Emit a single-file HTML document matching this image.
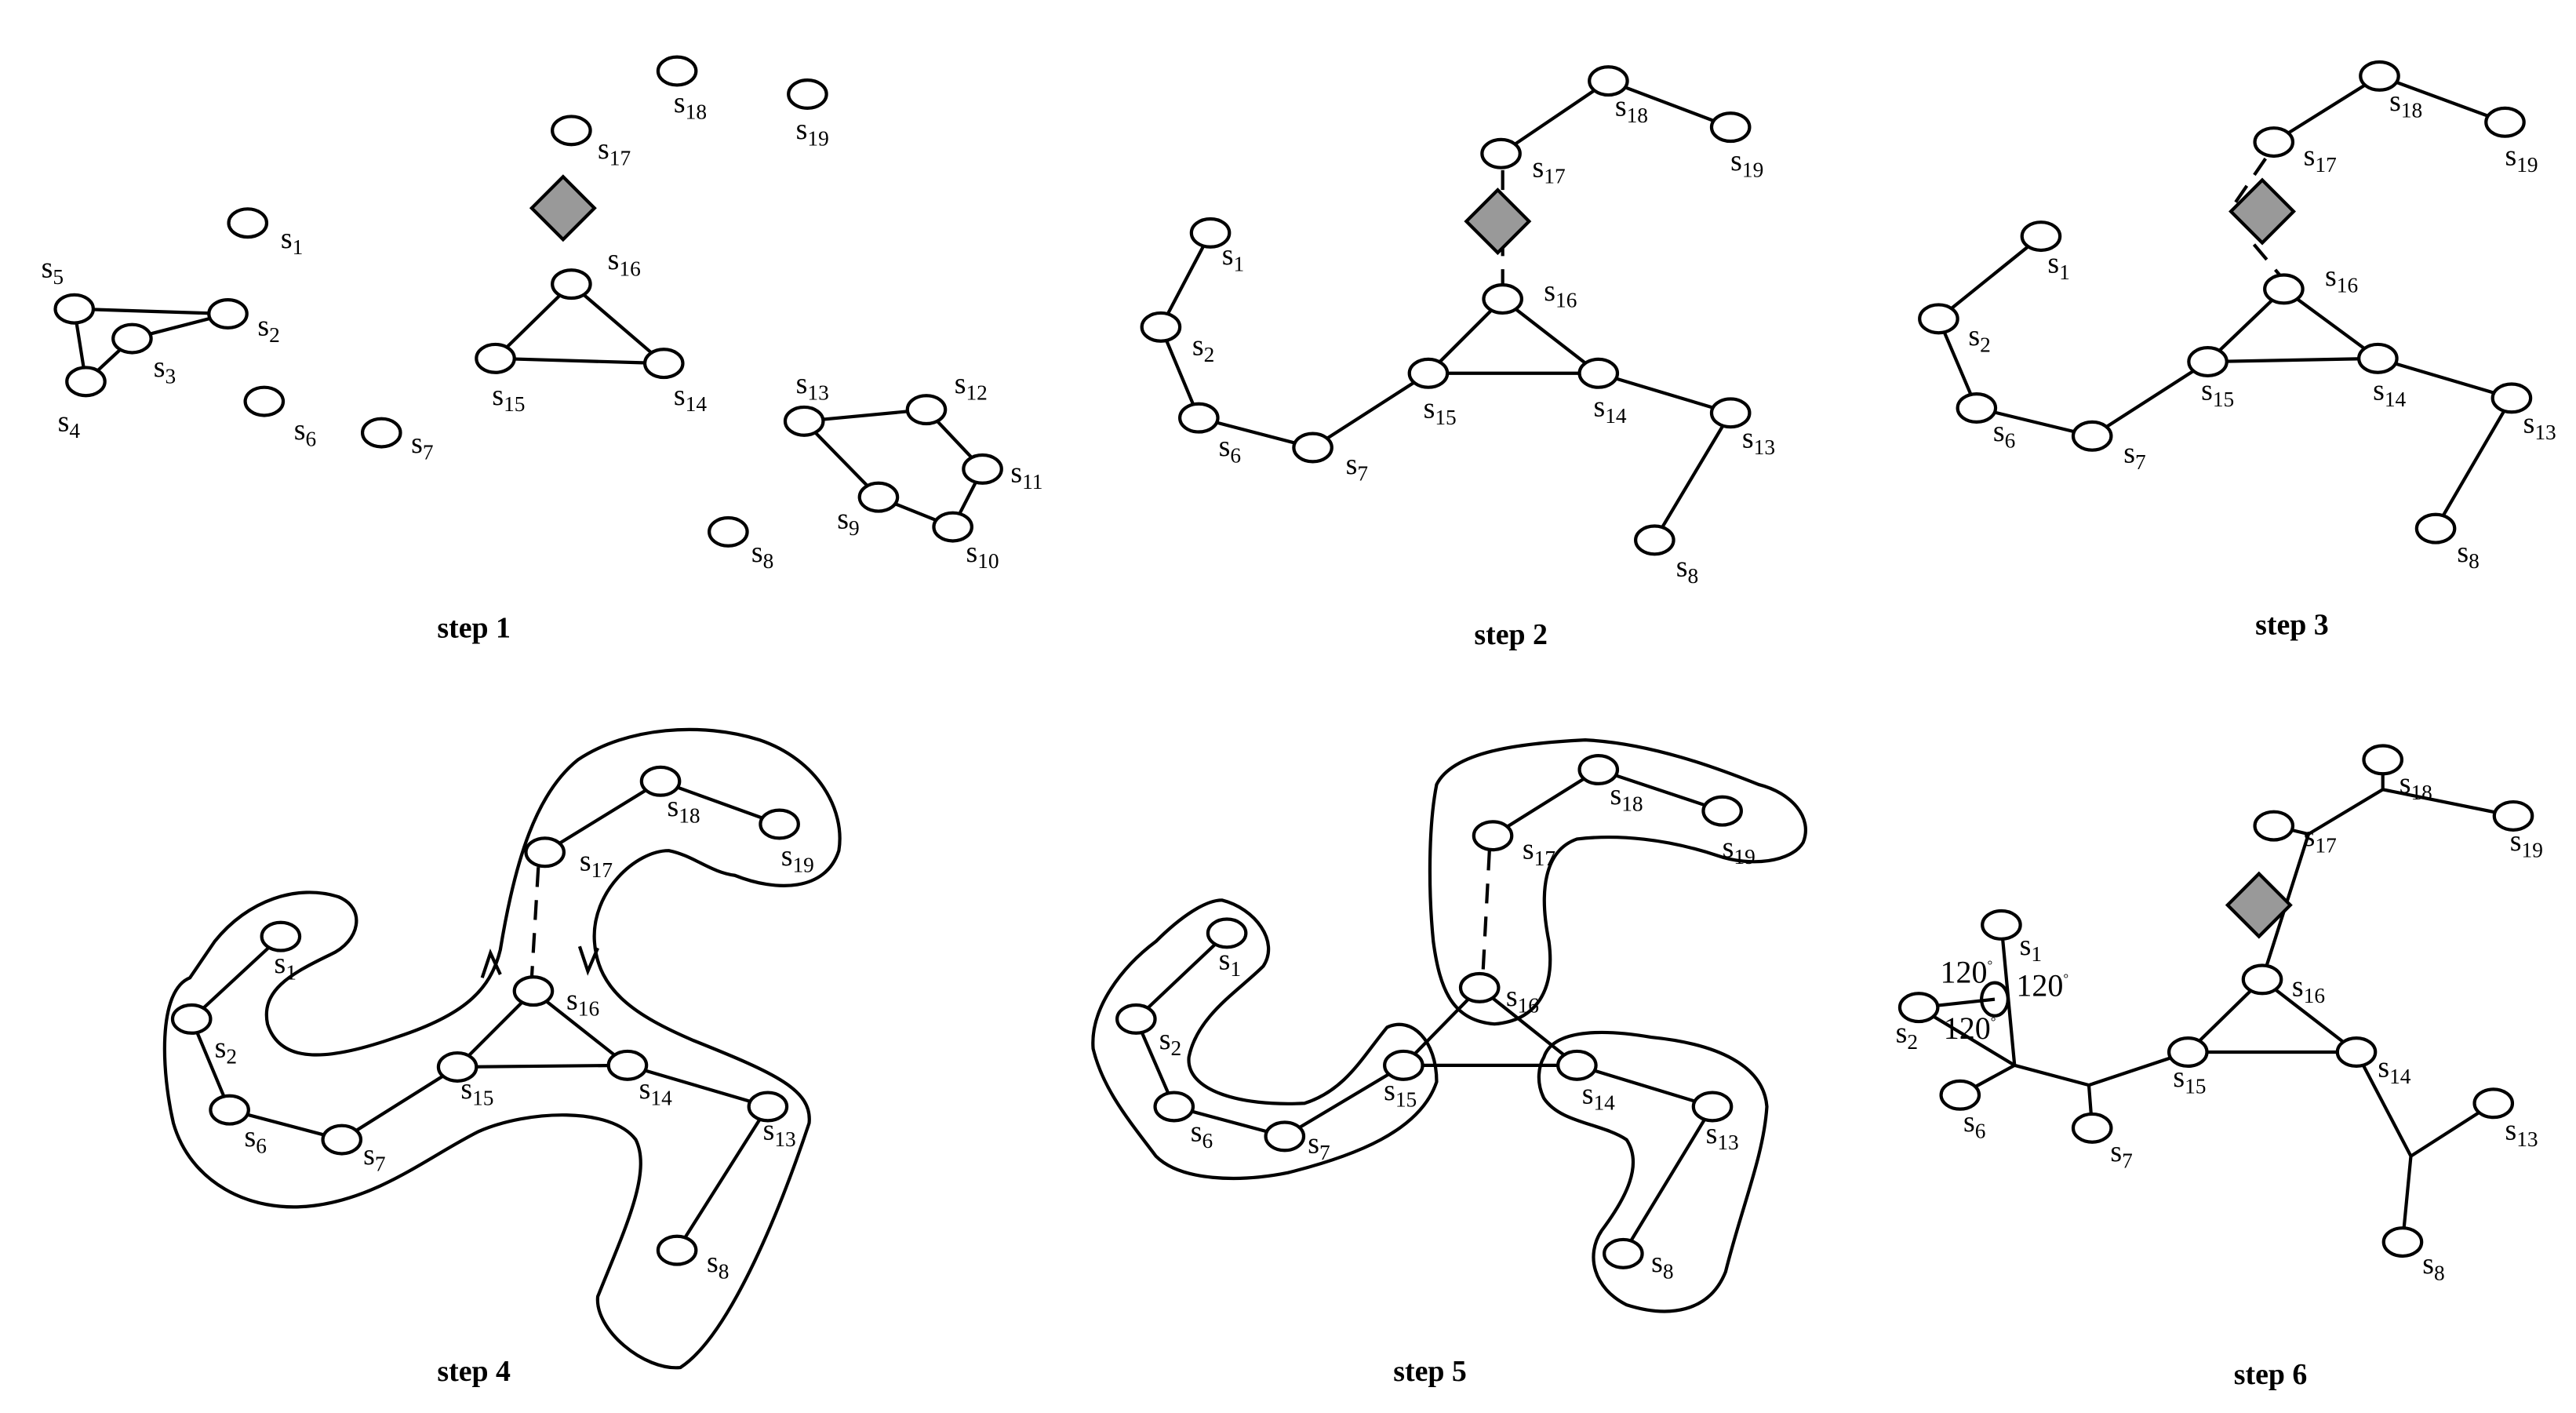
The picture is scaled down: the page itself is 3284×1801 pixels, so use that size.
<!DOCTYPE html>
<html><head><meta charset="utf-8"><style>
html,body{margin:0;padding:0;background:#fff;}
svg{display:block;}
text{font-family:"Liberation Serif",serif;fill:#000;}
.l{font-size:18px;}
.b{font-size:18px;font-weight:bold;}
</style></head><body>
<svg width="3284" height="1801" viewBox="0 0 1560 855.5" xmlns="http://www.w3.org/2000/svg">
<defs>
<ellipse id="n" rx="11.5" ry="8.5" fill="#fff" stroke="#000" stroke-width="2"/>
</defs>
<g stroke="#000" stroke-width="2" fill="none">
<!-- step1 edges -->
<path d="M45,187L138,190M45,187L52,231M52,231L80,205M80,205L138,190"/>
<path d="M346,172L300,217L402,220Z"/>
<path d="M487,255L561,248L595,284L577,319L532,301Z"/>
<!-- step2 -->
<path d="M733,141L703,198L726,253L795,271L865,226L910,181L968,226L865,226M968,226L1048,250L1002,327M909,93L974,49L1048,77"/>
<path d="M910,103L910,172" stroke-dasharray="12,8"/>
<!-- step3 -->
<path d="M1236,143L1174,193L1197,247L1267,264L1337,219L1383,175L1440,217L1337,219M1440,217L1521,241L1475,320M1377,86L1441,46L1517,74"/>
<path d="M1372,96L1350,128M1365,148L1381,167" stroke-dasharray="12,8"/>
<!-- step4 -->
<path d="M170,567L116,617L139,672L207,690L277,646L323,600L380,645L277,646M380,645L465,670L410,757M330,516L400,473L472,499"/>
<path d="M326,525L322,592" stroke-dasharray="12,8"/>
<path d="M115,592C95,600 98,650 105,680C115,715 150,735 190,730C230,725 260,700 290,685C320,672 370,670 385,690C395,710 378,745 362,785C360,805 390,830 412,828C440,810 470,740 490,680C492,660 470,650 420,630C385,615 362,600 360,570C358,540 385,515 405,515C420,518 430,528 445,530C470,540 500,540 508,515C512,490 495,460 460,448C425,437 380,440 350,460C325,480 312,520 303,575C297,600 280,615 240,628C200,642 170,645 162,620C158,600 175,590 200,578C218,570 222,550 205,543C180,535 150,545 130,570Z"/>
<path d="M292,592L297,577L303,590M351,573L356,588L362,574"/>
<!-- step5 -->
<path d="M743,565L688,617L711,670L778,688L850,645L896,598L955,645L850,645M955,645L1037,670L983,759M904,506L968,466L1043,491"/>
<path d="M902,515L898,590" stroke-dasharray="12,8"/>
<path d="M740,545C760,550 775,570 765,585C750,600 725,615 720,640C718,660 750,670 790,668C815,660 825,640 840,622C855,615 870,630 870,655C860,685 820,700 780,710C750,716 715,715 700,700C685,680 668,660 662,635C660,610 680,585 700,570C715,555 730,545 740,545Z"/>
<path d="M870,475C880,455 920,450 960,448C1000,450 1040,465 1065,475C1085,480 1098,495 1092,510C1085,522 1060,525 1040,518C1010,508 980,505 955,508C935,515 932,540 938,570C942,600 930,618 905,620C880,618 872,600 868,570C865,540 865,500 870,475Z"/>
<path d="M935,640C940,625 965,622 1000,628C1040,632 1068,645 1070,670C1068,700 1055,730 1045,770C1035,795 1010,798 985,790C965,780 960,760 970,745C985,725 995,705 985,690C970,680 945,680 935,665C930,655 932,645 935,640Z"/>
<!-- step6 -->
<path d="M1212,560L1220,645L1187,663M1220,645L1162,610M1162,610L1208,605M1220,645L1265,657L1267,683M1265,657L1325,637L1370,593L1427,637L1325,637M1370,593L1398,505L1377,500M1398,505L1443,478L1443,460M1443,478L1522,494M1427,637L1460,700L1510,668M1460,700L1455,752"/>
</g>
<g fill="#999" stroke="#000" stroke-width="2">
<path d="M341,107L360,126L341,145L322,126Z"/>
<path d="M907,115L926,134L907,153L888,134Z"/>
<path d="M1370,109L1389,128L1370,147L1351,128Z"/>
<path d="M1368,529L1387,548L1368,567L1349,548Z"/>
</g>
<!-- nodes -->
<g>
<use href="#n" x="150" y="135"/><use href="#n" x="45" y="187"/><use href="#n" x="138" y="190"/><use href="#n" x="80" y="205"/><use href="#n" x="52" y="231"/><use href="#n" x="160" y="243"/><use href="#n" x="231" y="262"/><use href="#n" x="346" y="172"/><use href="#n" x="300" y="217"/><use href="#n" x="402" y="220"/><use href="#n" x="346" y="79"/><use href="#n" x="410" y="43"/><use href="#n" x="489" y="57"/><use href="#n" x="487" y="255"/><use href="#n" x="561" y="248"/><use href="#n" x="595" y="284"/><use href="#n" x="577" y="319"/><use href="#n" x="532" y="301"/><use href="#n" x="441" y="322"/>
<use href="#n" x="733" y="141"/><use href="#n" x="703" y="198"/><use href="#n" x="726" y="253"/><use href="#n" x="795" y="271"/><use href="#n" x="865" y="226"/><use href="#n" x="910" y="181"/><use href="#n" x="968" y="226"/><use href="#n" x="1048" y="250"/><use href="#n" x="1002" y="327"/><use href="#n" x="909" y="93"/><use href="#n" x="974" y="49"/><use href="#n" x="1048" y="77"/>
<use href="#n" x="1236" y="143"/><use href="#n" x="1174" y="193"/><use href="#n" x="1197" y="247"/><use href="#n" x="1267" y="264"/><use href="#n" x="1337" y="219"/><use href="#n" x="1383" y="175"/><use href="#n" x="1440" y="217"/><use href="#n" x="1521" y="241"/><use href="#n" x="1475" y="320"/><use href="#n" x="1377" y="86"/><use href="#n" x="1441" y="46"/><use href="#n" x="1517" y="74"/>
<use href="#n" x="170" y="567"/><use href="#n" x="116" y="617"/><use href="#n" x="139" y="672"/><use href="#n" x="207" y="690"/><use href="#n" x="277" y="646"/><use href="#n" x="323" y="600"/><use href="#n" x="380" y="645"/><use href="#n" x="465" y="670"/><use href="#n" x="410" y="757"/><use href="#n" x="330" y="516"/><use href="#n" x="400" y="473"/><use href="#n" x="472" y="499"/>
<use href="#n" x="743" y="565"/><use href="#n" x="688" y="617"/><use href="#n" x="711" y="670"/><use href="#n" x="778" y="688"/><use href="#n" x="850" y="645"/><use href="#n" x="896" y="598"/><use href="#n" x="955" y="645"/><use href="#n" x="1037" y="670"/><use href="#n" x="983" y="759"/><use href="#n" x="904" y="506"/><use href="#n" x="968" y="466"/><use href="#n" x="1043" y="491"/>
<use href="#n" x="1212" y="560"/><use href="#n" x="1162" y="610"/><use href="#n" x="1187" y="663"/><use href="#n" x="1267" y="683"/><use href="#n" x="1325" y="637"/><use href="#n" x="1370" y="593"/><use href="#n" x="1427" y="637"/><use href="#n" x="1510" y="668"/><use href="#n" x="1455" y="752"/><use href="#n" x="1377" y="500"/><use href="#n" x="1443" y="460"/><use href="#n" x="1522" y="494"/>
</g>
<ellipse cx="1208" cy="605" rx="8" ry="10" fill="none" stroke="#000" stroke-width="2"/>
<g class="l">
<text x="170" y="150">s<tspan font-size="13" dy="4">1</tspan></text>
<text x="25" y="168">s<tspan font-size="13" dy="4">5</tspan></text>
<text x="156" y="203">s<tspan font-size="13" dy="4">2</tspan></text>
<text x="93" y="228">s<tspan font-size="13" dy="4">3</tspan></text>
<text x="35" y="261">s<tspan font-size="13" dy="4">4</tspan></text>
<text x="178" y="266">s<tspan font-size="13" dy="4">6</tspan></text>
<text x="249" y="274">s<tspan font-size="13" dy="4">7</tspan></text>
<text x="368" y="163">s<tspan font-size="13" dy="4">16</tspan></text>
<text x="298" y="245">s<tspan font-size="13" dy="4">15</tspan></text>
<text x="408" y="245">s<tspan font-size="13" dy="4">14</tspan></text>
<text x="362" y="96">s<tspan font-size="13" dy="4">17</tspan></text>
<text x="408" y="68">s<tspan font-size="13" dy="4">18</tspan></text>
<text x="482" y="84">s<tspan font-size="13" dy="4">19</tspan></text>
<text x="482" y="238">s<tspan font-size="13" dy="4">13</tspan></text>
<text x="578" y="238">s<tspan font-size="13" dy="4">12</tspan></text>
<text x="612" y="292">s<tspan font-size="13" dy="4">11</tspan></text>
<text x="585" y="340">s<tspan font-size="13" dy="4">10</tspan></text>
<text x="507" y="320">s<tspan font-size="13" dy="4">9</tspan></text>
<text x="455" y="340">s<tspan font-size="13" dy="4">8</tspan></text>

<text x="740" y="160">s<tspan font-size="13" dy="4">1</tspan></text>
<text x="722" y="215">s<tspan font-size="13" dy="4">2</tspan></text>
<text x="738" y="276">s<tspan font-size="13" dy="4">6</tspan></text>
<text x="815" y="287">s<tspan font-size="13" dy="4">7</tspan></text>
<text x="862" y="253">s<tspan font-size="13" dy="4">15</tspan></text>
<text x="935" y="182">s<tspan font-size="13" dy="4">16</tspan></text>
<text x="965" y="252">s<tspan font-size="13" dy="4">14</tspan></text>
<text x="1055" y="271">s<tspan font-size="13" dy="4">13</tspan></text>
<text x="1015" y="349">s<tspan font-size="13" dy="4">8</tspan></text>
<text x="928" y="107">s<tspan font-size="13" dy="4">17</tspan></text>
<text x="978" y="70">s<tspan font-size="13" dy="4">18</tspan></text>
<text x="1048" y="103">s<tspan font-size="13" dy="4">19</tspan></text>

<text x="1240" y="165">s<tspan font-size="13" dy="4">1</tspan></text>
<text x="1192" y="209">s<tspan font-size="13" dy="4">2</tspan></text>
<text x="1207" y="267">s<tspan font-size="13" dy="4">6</tspan></text>
<text x="1286" y="280">s<tspan font-size="13" dy="4">7</tspan></text>
<text x="1333" y="242">s<tspan font-size="13" dy="4">15</tspan></text>
<text x="1408" y="173">s<tspan font-size="13" dy="4">16</tspan></text>
<text x="1437" y="242">s<tspan font-size="13" dy="4">14</tspan></text>
<text x="1528" y="262">s<tspan font-size="13" dy="4">13</tspan></text>
<text x="1488" y="340">s<tspan font-size="13" dy="4">8</tspan></text>
<text x="1395" y="100">s<tspan font-size="13" dy="4">17</tspan></text>
<text x="1447" y="67">s<tspan font-size="13" dy="4">18</tspan></text>
<text x="1517" y="100">s<tspan font-size="13" dy="4">19</tspan></text>

<text x="166" y="589">s<tspan font-size="13" dy="4">1</tspan></text>
<text x="130" y="640">s<tspan font-size="13" dy="4">2</tspan></text>
<text x="148" y="694">s<tspan font-size="13" dy="4">6</tspan></text>
<text x="220" y="705">s<tspan font-size="13" dy="4">7</tspan></text>
<text x="279" y="665">s<tspan font-size="13" dy="4">15</tspan></text>
<text x="343" y="611">s<tspan font-size="13" dy="4">16</tspan></text>
<text x="387" y="665">s<tspan font-size="13" dy="4">14</tspan></text>
<text x="462" y="690">s<tspan font-size="13" dy="4">13</tspan></text>
<text x="428" y="770">s<tspan font-size="13" dy="4">8</tspan></text>
<text x="351" y="527">s<tspan font-size="13" dy="4">17</tspan></text>
<text x="404" y="494">s<tspan font-size="13" dy="4">18</tspan></text>
<text x="473" y="524">s<tspan font-size="13" dy="4">19</tspan></text>

<text x="738" y="587">s<tspan font-size="13" dy="4">1</tspan></text>
<text x="702" y="635">s<tspan font-size="13" dy="4">2</tspan></text>
<text x="721" y="691">s<tspan font-size="13" dy="4">6</tspan></text>
<text x="792" y="698">s<tspan font-size="13" dy="4">7</tspan></text>
<text x="838" y="666">s<tspan font-size="13" dy="4">15</tspan></text>
<text x="912" y="609">s<tspan font-size="13" dy="4">16</tspan></text>
<text x="958" y="668">s<tspan font-size="13" dy="4">14</tspan></text>
<text x="1033" y="692">s<tspan font-size="13" dy="4">13</tspan></text>
<text x="1000" y="770">s<tspan font-size="13" dy="4">8</tspan></text>
<text x="922" y="520">s<tspan font-size="13" dy="4">17</tspan></text>
<text x="975" y="487">s<tspan font-size="13" dy="4">18</tspan></text>
<text x="1043" y="519">s<tspan font-size="13" dy="4">19</tspan></text>

<text x="1223" y="578">s<tspan font-size="13" dy="4">1</tspan></text>
<text x="1148" y="631">s<tspan font-size="13" dy="4">2</tspan></text>
<text x="1189" y="685">s<tspan font-size="13" dy="4">6</tspan></text>
<text x="1278" y="703">s<tspan font-size="13" dy="4">7</tspan></text>
<text x="1316" y="658">s<tspan font-size="13" dy="4">15</tspan></text>
<text x="1388" y="603">s<tspan font-size="13" dy="4">16</tspan></text>
<text x="1440" y="652">s<tspan font-size="13" dy="4">14</tspan></text>
<text x="1517" y="690">s<tspan font-size="13" dy="4">13</tspan></text>
<text x="1467" y="771">s<tspan font-size="13" dy="4">8</tspan></text>
<text x="1395" y="512">s<tspan font-size="13" dy="4">17</tspan></text>
<text x="1453" y="480">s<tspan font-size="13" dy="4">18</tspan></text>
<text x="1520" y="515">s<tspan font-size="13" dy="4">19</tspan></text>
</g>
<g style="font-size:19px">
<text x="1175" y="595">120<tspan font-size="8" dy="-8">°</tspan></text>
<text x="1221" y="603">120<tspan font-size="8" dy="-8">°</tspan></text>
<text x="1177" y="629">120<tspan font-size="8" dy="-8">°</tspan></text>
</g>
<g class="b" text-anchor="middle">
<text x="287" y="386">step 1</text>
<text x="915" y="390">step 2</text>
<text x="1388" y="384">step 3</text>
<text x="287" y="836">step 4</text>
<text x="866" y="836">step 5</text>
<text x="1375" y="838">step 6</text>
</g>
</svg>
</body></html>
